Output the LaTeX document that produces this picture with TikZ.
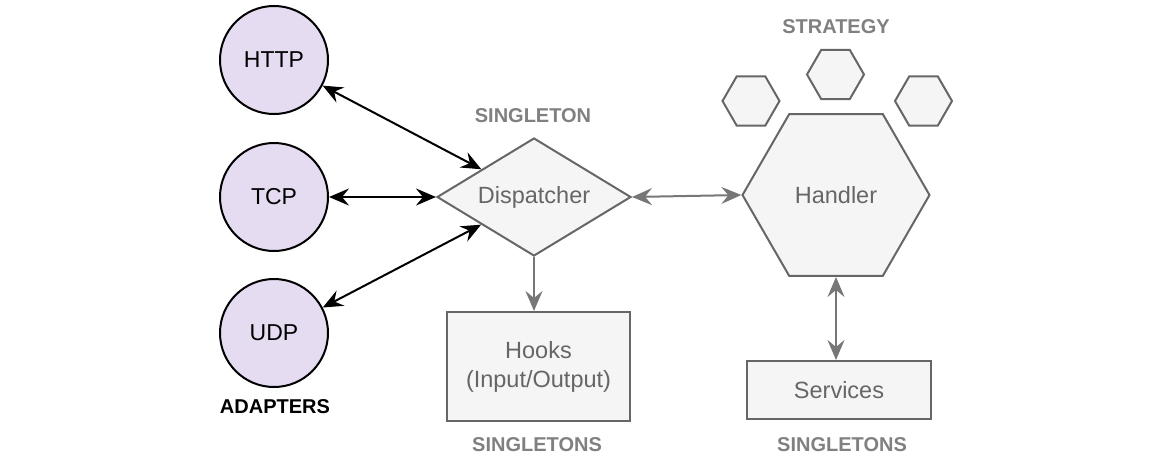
\documentclass[tikz,border=0pt]{standalone}
\usepackage{fontspec}
\setmainfont{Liberation Sans}
\usetikzlibrary{shapes.geometric,arrows.meta}
\definecolor{adfill}{HTML}{E6DCF2}
\definecolor{gfill}{HTML}{F5F5F5}
\definecolor{gline}{HTML}{666666}
\definecolor{garrow}{HTML}{777777}
\definecolor{glabel}{HTML}{808080}
\begin{document}
\begin{tikzpicture}[x=1pt,y=-1pt,
  >={Stealth[length=20pt,width=17pt,inset=7pt]},
  adapter/.style={circle, draw=black, line width=2pt, fill=adfill, minimum size=108pt, inner sep=0pt, font=\fontsize{23}{27}\selectfont},
  gshape/.style={draw=gline, line width=2pt, fill=gfill, inner sep=0pt, text=gline, font=\fontsize{23.5}{29}\selectfont},
  hexa/.style={gshape, regular polygon, regular polygon sides=6},
  lbl/.style={font=\bfseries\fontsize{20}{24}\selectfont, text=glabel, inner sep=0pt},
  blk/.style={draw=black, line width=2pt, <->},
  gry/.style={draw=garrow, line width=2pt}
]
\useasboundingbox (0,0) rectangle (1168,472);

\node[adapter] (http) at (274,60) {HTTP};
\node[adapter] (tcp) at (274,197) {TCP};
\node[adapter] (udp) at (274,333) {UDP};
\node[lbl, text=black] (adapters) at (275,407) {ADAPTERS};

\node[gshape, diamond, aspect=1.644, minimum width=194pt, minimum height=118pt] (disp) at (534,197) {Dispatcher};
\node[lbl] (singleton) at (533,116) {SINGLETON};

\node[hexa, minimum size=187pt] (handler) at (836,195) {Handler};
\node[hexa, minimum size=57pt] (s1) at (751,101) {};
\node[hexa, minimum size=57pt] (s2) at (835.5,74.5) {};
\node[hexa, minimum size=57pt] (s3) at (923.5,101) {};
\node[lbl] (strategy) at (836,27) {STRATEGY};

\node[gshape, rectangle, minimum width=183pt, minimum height=109pt, align=center] (hooks) at (538.5,366.5) {Hooks\\(Input/Output)};
\node[lbl] (sg1) at (537,445) {SINGLETONS};

\node[gshape, rectangle, minimum width=184pt, minimum height=58pt] (services) at (839,390) {Services};
\node[lbl] (sg2) at (842,445) {SINGLETONS};

\draw[blk] (http) -- (disp);
\draw[blk] (tcp) -- (disp);
\draw[blk] (udp) -- (disp);
\draw[gry, <->] (disp.east) -- (handler.west);
\draw[gry, ->] (disp.south) -- (disp.south |- hooks.north);
\draw[gry, <->] (handler.south) -- (handler.south |- services.north);
\end{tikzpicture}
\end{document}
